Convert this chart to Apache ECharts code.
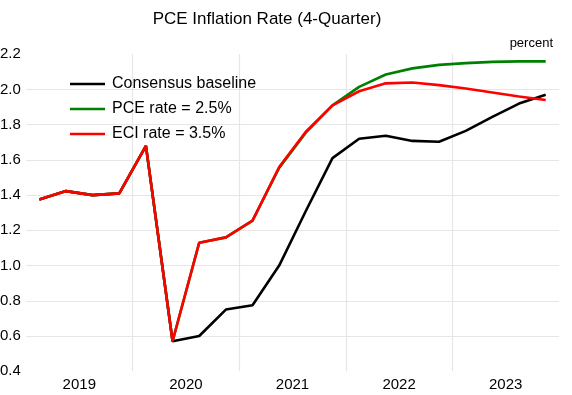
<!DOCTYPE html>
<html>
<head>
<meta charset="utf-8">
<script src="https://cdn.jsdelivr.net/npm/echarts@6/dist/echarts.min.js"></script>
<style>html,body{margin:0;padding:0;background:#fff}#c{width:572px;height:395px}</style>
</head>
<body>
<div id="c"></div>
<script>
const quarters = ['2019Q1','2019Q2','2019Q3','2019Q4','2020Q1','2020Q2','2020Q3','2020Q4','2021Q1','2021Q2','2021Q3','2021Q4','2022Q1','2022Q2','2022Q3','2022Q4','2023Q1','2023Q2','2023Q3','2023Q4'];
const years = ['2019','2020','2021','2022','2023'];
const consensus = [1.375,1.423,1.40,1.41,1.68,0.57,0.60,0.75,0.775,1.00,1.31,1.61,1.72,1.737,1.708,1.703,1.765,1.845,1.92,1.97];
const pce25 = [1.375,1.423,1.40,1.41,1.68,0.57,1.13,1.16,1.255,1.555,1.755,1.91,2.015,2.085,2.12,2.14,2.15,2.157,2.16,2.16];
const eci35 = [1.375,1.423,1.40,1.41,1.68,0.57,1.13,1.16,1.255,1.56,1.76,1.91,1.99,2.035,2.04,2.025,2.006,1.983,1.96,1.94];
const seriesNames = ['Consensus baseline','PCE rate = 2.5%','ECI rate = 3.5%'];
const yTicks = {min:0.4, max:2.2, interval:0.2};

const font = 'Liberation Sans, Arial, sans-serif';
const chart = echarts.init(document.getElementById('c'), null, {renderer:'canvas'});
chart.setOption({
  animation:false,
  backgroundColor:'#fff',
  title:[
    {text:'PCE Inflation Rate (4-Quarter)', left:262, top:6, textAlign:'center',
     textStyle:{fontFamily:font, fontSize:17, fontWeight:'normal', color:'#000'}},
    {text:'percent', right:14, top:32,
     textStyle:{fontFamily:font, fontSize:13, fontWeight:'normal', color:'#000'}}
  ],
  legend:{
    left:65, top:71, orient:'vertical', itemGap:9, itemWidth:35, itemHeight:16,
    icon:'path://M0,7 L35,7 L35,9.5 L0,9.5 Z',
    textStyle:{fontFamily:font, fontSize:16, color:'#000', padding:[0,0,0,2]},
    data:seriesNames
  },
  grid:{left:26, right:13, top:54.3, bottom:23.8, containLabel:false, outerBoundsMode:'none'},
  xAxis:[
    {type:'category', data:quarters, boundaryGap:true, axisLine:{show:false}, axisTick:{show:false},
     axisLabel:{show:false}, splitLine:{show:false}},
    {type:'category', data:years, boundaryGap:true, position:'bottom', axisLine:{show:false}, axisTick:{show:false},
     axisLabel:{show:true, fontFamily:font, fontSize:15, color:'#000', margin:6},
     splitLine:{show:true, showMinLine:false, showMaxLine:false, lineStyle:{color:'#e6e6e6', width:1.2}}}
  ],
  yAxis:{
    type:'value', min:yTicks.min, max:yTicks.max, interval:yTicks.interval,
    axisLine:{show:false}, axisTick:{show:false},
    axisLabel:{align:'left', margin:26, fontFamily:font, fontSize:15, color:'#000',
      formatter:v=>v.toFixed(1)},
    splitLine:{show:true, showMinLine:false, showMaxLine:false, lineStyle:{color:'#e6e6e6', width:1.2}}
  },
  series:[
    {name:seriesNames[0], type:'line', xAxisIndex:0, data:consensus, symbol:'none', lineStyle:{color:'#000000', width:2.6}, itemStyle:{color:'#000000'}},
    {name:seriesNames[1], type:'line', xAxisIndex:0, data:pce25, symbol:'none', lineStyle:{color:'#008000', width:2.6}, itemStyle:{color:'#008000'}},
    {name:seriesNames[2], type:'line', xAxisIndex:0, data:eci35, symbol:'none', lineStyle:{color:'#ff0000', width:2.6}, itemStyle:{color:'#ff0000'}}
  ]
});
</script>
</body>
</html>
